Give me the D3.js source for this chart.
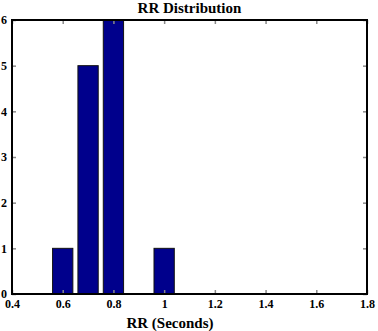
<!DOCTYPE html>
<html>
<head>
<meta charset="utf-8">
<script src="https://cdn.jsdelivr.net/npm/d3@7"></script>
<style>
  body { margin: 0; background: #fff; }
  text { font-family: "Liberation Serif", "DejaVu Serif", serif; font-weight: bold; fill: #000; }
</style>
</head>
<body>
<svg id="chart" width="378" height="331"></svg>
<script>
// histogram bin centers and counts
var binCenters = [0.6, 0.7, 0.8, 0.9, 1.0];
var binCounts = [1, 5, 6, 0, 1];
var xTicks = [0.4, 0.6, 0.8, 1, 1.2, 1.4, 1.6, 1.8];
var yTicks = [0, 1, 2, 3, 4, 5, 6];

var svg = d3.select("#chart");
var margin = {left: 12, right: 11, top: 20, bottom: 37};
var width = 378 - margin.left - margin.right;
var height = 331 - margin.top - margin.bottom;

var x = d3.scaleLinear().domain([0.4, 1.8]).range([0, width]);
var y = d3.scaleLinear().domain([0, 6]).range([height, 0]);

var g = svg.append("g").attr("transform", "translate(" + margin.left + "," + margin.top + ")");

// bars, 80% of the bin width like matlab's hist
var barWidth = 0.08;
g.selectAll("rect.bar")
  .data(binCenters.map(function (c, i) { return {c: c, n: binCounts[i]}; }).filter(function (d) { return d.n > 0; }))
  .enter()
  .append("rect")
  .attr("class", "bar")
  .attr("x", function (d) { return x(d.c - barWidth / 2); })
  .attr("width", function (d) { return x(d.c + barWidth / 2) - x(d.c - barWidth / 2); })
  .attr("y", function (d) { return y(d.n); })
  .attr("height", function (d) { return y(0) - y(d.n); })
  .attr("fill", "#00008c")
  .attr("stroke", "#111")
  .attr("stroke-width", 1);

// inward ticks on all four sides
var tickStyle = function (sel) {
  sel.select(".domain").remove();
  sel.selectAll(".tick line").attr("stroke", "#888").attr("stroke-width", 1.5);
  sel.selectAll(".tick text").style("font-size", "12px").style("font-family", "Liberation Serif, serif").style("font-weight", "bold");
};

g.append("g")
  .attr("transform", "translate(0," + height + ")")
  .call(d3.axisBottom(x).tickValues(xTicks).tickSize(-4).tickPadding(5).tickFormat(d3.format("")))
  .call(tickStyle);

g.append("g")
  .call(d3.axisTop(x).tickValues(xTicks).tickSize(-4).tickFormat(""))
  .call(tickStyle);

g.append("g")
  .call(d3.axisLeft(y).tickValues(yTicks).tickSize(-4).tickPadding(5).tickFormat(d3.format("d")))
  .call(tickStyle);

g.append("g")
  .attr("transform", "translate(" + width + ",0)")
  .call(d3.axisRight(y).tickValues(yTicks).tickSize(-4).tickFormat(""))
  .call(tickStyle);

// box
g.append("rect")
  .attr("width", width)
  .attr("height", height)
  .attr("fill", "none")
  .attr("stroke", "#000")
  .attr("stroke-width", 2);

svg.append("text")
  .attr("x", margin.left + width / 2)
  .attr("y", 13)
  .attr("text-anchor", "middle")
  .style("font-size", "15px")
  .text("RR Distribution");

svg.append("text")
  .attr("x", 170)
  .attr("y", 328)
  .attr("text-anchor", "middle")
  .style("font-size", "15px")
  .text("RR (Seconds)");
</script>
</body>
</html>
